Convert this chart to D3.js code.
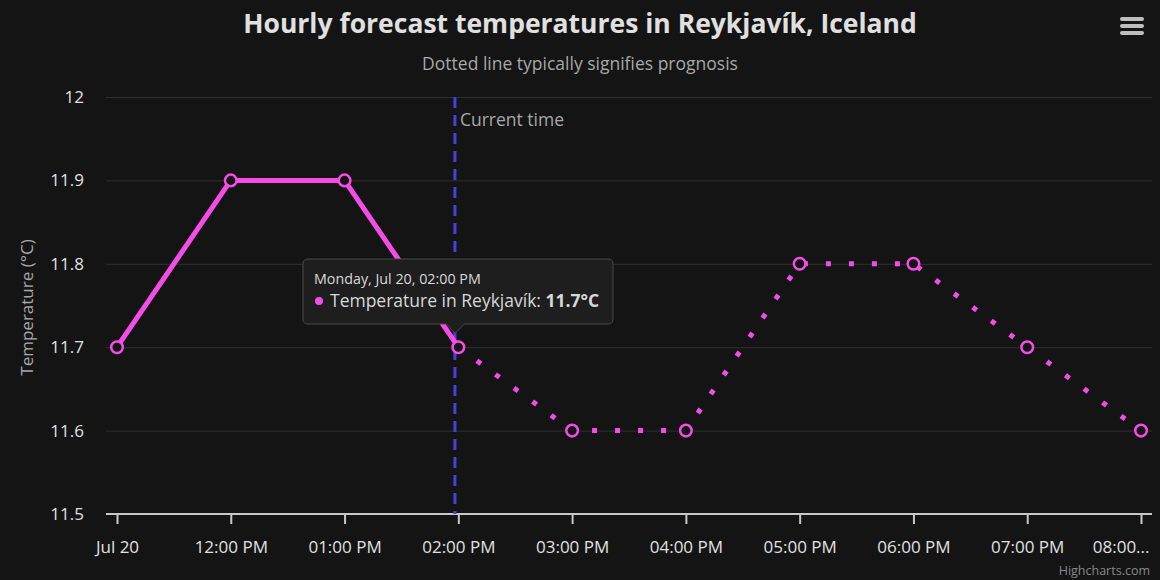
<!DOCTYPE html>
<html>
<head>
<meta charset="utf-8">
<script src="https://cdn.jsdelivr.net/npm/d3@7"></script>
<style>
  body { margin: 0; background: #141414; }
  svg { display: block; font-family: "Open Sans", "Noto Sans", sans-serif; }
</style>
</head>
<body>
<svg id="chart"></svg>
<script>
// hourly forecast, Jul 20 (local hours)
const hours = [11, 12, 13, 14, 15, 16, 17, 18, 19, 20];
const temps = [11.7, 11.9, 11.9, 11.7, 11.6, 11.6, 11.8, 11.8, 11.7, 11.6];
const tickLabels = ["Jul 20", "12:00 PM", "01:00 PM", "02:00 PM", "03:00 PM", "04:00 PM", "05:00 PM", "06:00 PM", "07:00 PM", "08:00..."];
const yTicks = [11.5, 11.6, 11.7, 11.8, 11.9, 12];
const solidUntil = 14;      // after this the line is a prognosis (dotted)
const currentTime = 13.97;  // "Current time" plot line
const hoverIndex = 3;

const width = 1160, height = 580;
const svg = d3.select("#chart").attr("width", width).attr("height", height);

const plotLeft = 106, plotRight = 1152, plotTop = 97, plotBottom = 514;
const lineColor = "#f54ce8";

const x = d3.scaleLinear().domain([11, 20]).range([117, 1141]);
const y = d3.scaleLinear().domain([11.5, 12]).range([plotBottom, plotTop]);

// title + subtitle
svg.append("text")
  .attr("x", 580).attr("y", 33)
  .attr("text-anchor", "middle")
  .attr("fill", "#e0e0e0")
  .style("font-size", "26.5px").style("font-weight", "bold")
  .text("Hourly forecast temperatures in Reykjavík, Iceland");

svg.append("text")
  .attr("x", 580).attr("y", 70)
  .attr("text-anchor", "middle")
  .attr("fill", "#a8a8a8")
  .style("font-size", "17.5px")
  .text("Dotted line typically signifies prognosis");

// menu icon
svg.append("g").selectAll("rect")
  .data([0, 1, 2])
  .join("rect")
  .attr("x", 1120).attr("y", d => 17 + d * 7)
  .attr("width", 24).attr("height", 4).attr("rx", 2)
  .attr("fill", "#bdbdbd");

// gridlines
svg.append("g").selectAll("line")
  .data(yTicks.filter(d => d !== 11.5))
  .join("line")
  .attr("x1", plotLeft).attr("x2", plotRight)
  .attr("y1", d => y(d) + 0.5).attr("y2", d => y(d) + 0.5)
  .attr("stroke", "#303030");

// y axis labels
const yAxis = svg.append("g")
  .attr("transform", `translate(${plotLeft},0)`)
  .call(d3.axisLeft(y).tickValues(yTicks).tickSize(0).tickPadding(22).tickFormat(d3.format("")));
yAxis.select(".domain").remove();
yAxis.selectAll("text").attr("fill", "#e0e0e0").style("font-size", "17px")
  .style("font-family", "'Open Sans', 'Noto Sans', sans-serif");

svg.append("text")
  .attr("transform", `translate(33,${(plotTop + plotBottom) / 2 + 2}) rotate(-90)`)
  .attr("text-anchor", "middle")
  .attr("fill", "#a8a8a8")
  .style("font-size", "17px")
  .text("Temperature (°C)");

// x axis
const xAxis = svg.append("g")
  .attr("transform", `translate(0,${plotBottom})`)
  .call(d3.axisBottom(x).tickValues(hours).tickSize(10).tickPadding(17)
    .tickFormat((d, i) => tickLabels[i]));
xAxis.select(".domain").remove();
xAxis.selectAll("line").attr("stroke", "#c8c8c8").attr("stroke-width", 2);
xAxis.selectAll("text").attr("fill", "#e0e0e0").style("font-size", "17px")
  .style("font-family", "'Open Sans', 'Noto Sans', sans-serif");
// last label is pulled inside the chart
xAxis.selectAll("text").filter((d, i) => i === hours.length - 1)
  .attr("text-anchor", "end").attr("dx", 8);
svg.append("line")
  .attr("x1", plotLeft).attr("x2", plotRight)
  .attr("y1", plotBottom).attr("y2", plotBottom)
  .attr("stroke", "#c8c8c8").attr("stroke-width", 2);

// current time plot line
svg.append("line")
  .attr("x1", x(currentTime)).attr("x2", x(currentTime))
  .attr("y1", plotTop).attr("y2", plotBottom)
  .attr("stroke", "#4b3fdc").attr("stroke-width", 3)
  .attr("stroke-dasharray", "11,7");
svg.append("text")
  .attr("x", x(currentTime) + 5).attr("y", 126)
  .attr("fill", "#a8a8a8")
  .style("font-size", "17.5px")
  .text("Current time");

// series
const data = hours.map((h, i) => ({ h, t: temps[i] }));
const line = d3.line().x(d => x(d.h)).y(d => y(d.t));

svg.append("path")
  .datum(data.filter(d => d.h <= solidUntil))
  .attr("d", line)
  .attr("fill", "none").attr("stroke", lineColor)
  .attr("stroke-width", 5).attr("stroke-linejoin", "round");

svg.append("path")
  .datum(data.filter(d => d.h >= solidUntil))
  .attr("d", line)
  .attr("fill", "none").attr("stroke", lineColor)
  .attr("stroke-width", 5).attr("stroke-dasharray", "5,18");

svg.append("g").selectAll("circle")
  .data(data)
  .join("circle")
  .attr("cx", d => x(d.h)).attr("cy", d => y(d.t))
  .attr("r", 5.8)
  .attr("fill", "#141414")
  .attr("stroke", lineColor).attr("stroke-width", 2.5);

// tooltip
const hp = data[hoverIndex];
const tipX = x(hp.h) - 3, tipY = y(hp.t) - 14;
const bx = 303, by = 259, bw = 310, bh = 65, r = 5;
const tipPath = `M${bx + r},${by} H${bx + bw - r} Q${bx + bw},${by} ${bx + bw},${by + r}
  V${by + bh - r} Q${bx + bw},${by + bh} ${bx + bw - r},${by + bh}
  H${tipX + 9} L${tipX},${tipY} L${tipX - 9},${by + bh}
  H${bx + r} Q${bx},${by + bh} ${bx},${by + bh - r} V${by + r} Q${bx},${by} ${bx + r},${by} Z`;
svg.append("path")
  .attr("d", tipPath)
  .attr("fill", "#1e1e1e")
  .attr("stroke", "#4a4a4a").attr("stroke-width", 1);

svg.append("text")
  .attr("x", bx + 11).attr("y", by + 25)
  .attr("fill", "#d8d8d8")
  .style("font-size", "14.3px")
  .text("Monday, Jul 20, 02:00 PM");
svg.append("circle")
  .attr("cx", bx + 16).attr("cy", by + 42).attr("r", 4)
  .attr("fill", lineColor);
const t2 = svg.append("text")
  .attr("x", bx + 27).attr("y", by + 48)
  .attr("fill", "#d8d8d8")
  .style("font-size", "17.5px");
t2.append("tspan").text("Temperature in Reykjavík: ");
t2.append("tspan").style("font-weight", "bold").text(hp.t + "°C");

// credits
svg.append("text")
  .attr("x", 1150).attr("y", 575)
  .attr("text-anchor", "end")
  .attr("fill", "#888")
  .style("font-size", "12.5px")
  .text("Highcharts.com");
</script>
</body>
</html>
